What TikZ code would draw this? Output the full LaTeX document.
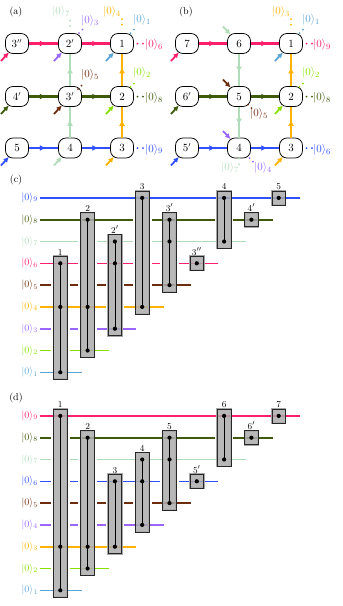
\documentclass[tikz,border=0pt]{standalone}
\usetikzlibrary{arrows.meta,decorations.markings,calc}
\definecolor{cLB}{HTML}{5AA5D5}
\definecolor{cLime}{HTML}{88E000}
\definecolor{cPur}{HTML}{9966FF}
\definecolor{cOr}{HTML}{FFB300}
\definecolor{cBr}{HTML}{6E2C0E}
\definecolor{cPk}{HTML}{FF1F6B}
\definecolor{cMint}{HTML}{B0DCB9}
\definecolor{cOl}{HTML}{3E5A0A}
\definecolor{cBl}{HTML}{3050FF}
\newcommand\feedSW[2]{\draw[feed=#2] ($(#1)+(-16,17.5)$) -- (#1);}
\newcommand\feedNW[2]{\draw[feed=#2] ($(#1)+(-16,-17)$) -- (#1);}
\newcommand\twodots[3]{\fill[#1] (#2) circle[radius=1pt] (#3) circle[radius=1pt];}
% #1 offset, #2 column, #3 name, #4 label, #5 top wire, #6 bottom wire, #7 list wire/colour
\newcommand\gate[7]{%
  \pgfmathsetmacro\gx{60.3+(#2-1)*27.3}%
  \pgfmathsetmacro\gt{372.3-(#5-1)*21.8+#1}%
  \pgfmathsetmacro\gb{372.3-(#6-1)*21.8+#1}%
  \fill[white] (\gx-9.3,\gt-7) rectangle (\gx+9.3,\gb+7);
  \foreach \gk/\gc in {#7}{\pgfmathsetmacro\gy{372.3-(\gk-1)*21.8+#1}\draw[wire=\gc] (\gx-9.6,\gy) -- (\gx+9.6,\gy);}
  \draw[draw=gray!70, line width=1.8pt] (\gx-6.8,\gt-7) rectangle (\gx+6.8,\gb+7);
  \draw[gatebox] (\gx-6.8,\gt-7) rectangle (\gx+6.8,\gb+7);
  \draw[line width=0.8pt] (\gx,\gt) -- (\gx,\gb);
  \foreach \gk/\gc in {#7}{\pgfmathsetmacro\gy{372.3-(\gk-1)*21.8+#1}\fill (\gx,\gy) circle[radius=2.1pt];}
  \node[glab] (#3) at (\gx,\gt-7) {$#4$};
}
\begin{document}
\begin{tikzpicture}[x=1pt,y=-1pt,
  font=\fontsize{10}{12}\selectfont,
  site/.style={draw=black, fill=white, line width=0.75pt, rounded corners=7.5pt, minimum width=23pt, minimum height=20pt, inner sep=0pt, font=\fontsize{10.5}{12}\selectfont},
  flow/.style={draw=#1, line width=2.2pt, postaction={decorate}, decoration={markings, mark=at position 0.58 with {\arrow{Latex[length=6pt,width=6pt]}}}},
  feed/.style={draw=#1, line width=1.8pt, -{Latex[length=5.5pt,width=5.5pt]}, shorten >=-2pt},
  ket/.style={text=#1, inner sep=0.5pt, font=\fontsize{11}{13}\selectfont},
  wire/.style={draw=#1, line width=1.6pt},
  gatebox/.style={fill=gray!65, fill opacity=0.85, draw=black!85, line width=0.7pt},
  glab/.style={anchor=south, inner sep=1pt, font=\fontsize{9.5}{10}\selectfont},
  wlab/.style={anchor=east, inner sep=0.5pt, text=#1}
]
\useasboundingbox (0,0) rectangle (343,606);

% ---------- panel (a) ----------
\node (pa) at (16,12) {(a)};
\node[site] (a3pp) at (17,43.5) {$3''$};
\node[site] (a2p) at (70,43.5) {$2'$};
\node[site] (a1) at (122,43.5) {$1$};
\node[site] (a4p) at (17,96.5) {$4'$};
\node[site] (a3p) at (70,96.5) {$3'$};
\node[site] (a2) at (122,96.5) {$2$};
\node[site] (a5) at (17,148) {$5$};
\node[site] (a4) at (70,148) {$4$};
\node[site] (a3) at (122,148) {$3$};

\draw[flow=cPk] (a3pp) -- (a2p);
\draw[flow=cPk] (a2p) -- (a1);
\draw[flow=cOl] (a4p) -- (a3p);
\draw[flow=cOl] (a3p) -- (a2);
\draw[flow=cBl] (a5) -- (a4);
\draw[flow=cBl] (a4) -- (a3);
\draw[flow=cMint] (a4) -- (a3p);
\draw[flow=cMint] (a3p) -- (a2p);
\draw[flow=cOr] (a3) -- (a2);
\draw[flow=cOr] (a2) -- (a1);

\feedSW{a3pp}{cPk}
\feedSW{a2p}{cPur}
\feedSW{a1}{cLB}
\feedSW{a4p}{cOl}
\feedSW{a3p}{cBr}
\feedSW{a2}{cLime}
\feedSW{a5}{cBl}
\feedSW{a4}{cMint}
\feedSW{a3}{cOr}

\node[ket=cMint] (ka7) at (61,12) {$|0\rangle_7$};
\node[ket=cPur] (ka3) at (90,21) {$|0\rangle_3$};
\node[ket=cOr] (ka4) at (112,12) {$|0\rangle_4$};
\node[ket=cLB] (ka1) at (142,20) {$|0\rangle_1$};
\node[ket=cPk] (ka6) at (154,45) {$|0\rangle_6$};
\node[ket=cBr] (ka5) at (90,75) {$|0\rangle_5$};
\node[ket=cLime] (ka2) at (142,73) {$|0\rangle_2$};
\node[ket=cOl] (ka8) at (154,98) {$|0\rangle_8$};
\node[ket=cBl] (ka9) at (154,149.5) {$|0\rangle_9$};

\twodots{cMint}{70,20.5}{70,26}
\twodots{cPur}{79,33}{82.5,29.5}
\twodots{cOr}{122,19}{122,24.5}
\twodots{cLB}{130.5,33}{134,29.5}
\twodots{cPk}{137.5,43.5}{143,43.5}
\twodots{cBr}{78,89}{81.5,85.5}
\twodots{cLime}{130.5,87}{134,83.5}
\twodots{cOl}{137.5,96.5}{143,96.5}
\twodots{cBl}{137.5,148}{143,148}

% ---------- panel (b) ----------
\node (pb) at (186,12) {(b)};
\node[site] (b7) at (187,43.5) {$7$};
\node[site] (b6) at (239,43.5) {$6$};
\node[site] (b1) at (291,43.5) {$1$};
\node[site] (b6p) at (187,96.5) {$6'$};
\node[site] (b5) at (239,96.5) {$5$};
\node[site] (b2) at (291,96.5) {$2$};
\node[site] (b5p) at (187,148) {$5'$};
\node[site] (b4) at (239,148) {$4$};
\node[site] (b3) at (291,148) {$3$};

\draw[flow=cPk] (b7) -- (b6);
\draw[flow=cPk] (b6) -- (b1);
\draw[flow=cOl] (b6p) -- (b5);
\draw[flow=cOl] (b5) -- (b2);
\draw[flow=cBl] (b5p) -- (b4);
\draw[flow=cBl] (b4) -- (b3);
\draw[flow=cMint] (b6) -- (b5);
\draw[flow=cMint] (b5) -- (b4);
\draw[flow=cOr] (b3) -- (b2);
\draw[flow=cOr] (b2) -- (b1);

\feedSW{b7}{cPk}
\feedNW{b6}{cMint}
\feedSW{b1}{cLB}
\feedSW{b6p}{cOl}
\feedNW{b5}{cBr}
\feedSW{b2}{cLime}
\feedSW{b5p}{cBl}
\feedNW{b4}{cPur}
\feedSW{b3}{cOr}

\node[ket=cOr] (kb3) at (281,12) {$|0\rangle_3$};
\node[ket=cLB] (kb1) at (311,20) {$|0\rangle_1$};
\node[ket=cPk] (kb9) at (322,45) {$|0\rangle_9$};
\node[ket=cLime] (kb2) at (311,73) {$|0\rangle_2$};
\node[ket=cOl] (kb8) at (322,98) {$|0\rangle_8$};
\node[ket=cBl] (kb6) at (322,150) {$|0\rangle_6$};
\node[ket=cBr] (kb5) at (259,114) {$|0\rangle_5$};
\node[ket=cMint] (kb7) at (230,168) {$|0\rangle_7$};
\node[ket=cPur] (kb4) at (263,168) {$|0\rangle_4$};

\twodots{cOr}{291,19}{291,24.5}
\twodots{cLB}{299.5,33}{303,29.5}
\twodots{cPk}{306.5,43.5}{312,43.5}
\twodots{cLime}{299.5,87}{303,83.5}
\twodots{cOl}{306.5,96.5}{312,96.5}
\twodots{cBl}{306.5,148}{312,148}
\twodots{cBr}{248,104.5}{251.5,108}
\twodots{cMint}{239,158.5}{239,164}
\twodots{cPur}{249.5,158}{253,161.5}

% ---------- panel (c) ----------
\node (pc) at (16,180) {(c)};
\foreach \wk/\wc in {1/cLB,2/cLime,3/cPur,4/cOr,5/cBr,6/cPk,7/cMint,8/cOl,9/cBl}{
  \pgfmathsetmacro\wy{372.3-(\wk-1)*21.8}
  \pgfmathsetmacro\we{60.3+(\wk-1)*27.3+21.5}
  \draw[wire=\wc] (40,\wy) -- (\we,\wy);
  \node[wlab=\wc] (wc\wk) at (38.5,\wy) {$|0\rangle_{\wk}$};
}
\gate{0}{1}{gc1}{1}{6}{1}{6/cPk,4/cOr,1/cLB}
\gate{0}{2}{gc2}{2}{8}{2}{8/cOl,4/cOr,2/cLime}
\gate{0}{3}{gc2p}{2'}{7}{3}{7/cMint,6/cPk,3/cPur}
\gate{0}{4}{gc3}{3}{9}{4}{9/cBl,4/cOr}
\gate{0}{5}{gc3p}{3'}{8}{5}{8/cOl,7/cMint,5/cBr}
\gate{0}{6}{gc3pp}{3''}{6}{6}{6/cPk}
\gate{0}{7}{gc4}{4}{9}{7}{9/cBl,7/cMint}
\gate{0}{8}{gc4p}{4'}{8}{8}{8/cOl}
\gate{0}{9}{gc5}{5}{9}{9}{9/cBl}

% ---------- panel (d) ----------
\node (pd) at (16,398) {(d)};
\foreach \wk/\wc in {1/cLB,2/cLime,3/cOr,4/cPur,5/cBr,6/cBl,7/cMint,8/cOl,9/cPk}{
  \pgfmathsetmacro\wy{372.3-(\wk-1)*21.8+218}
  \pgfmathsetmacro\we{60.3+(\wk-1)*27.3+21.5}
  \draw[wire=\wc] (40,\wy) -- (\we,\wy);
  \node[wlab=\wc] (wd\wk) at (38.5,\wy) {$|0\rangle_{\wk}$};
}
\gate{218}{1}{gd1}{1}{9}{1}{9/cPk,3/cOr,1/cLB}
\gate{218}{2}{gd2}{2}{8}{2}{8/cOl,3/cOr,2/cLime}
\gate{218}{3}{gd3}{3}{6}{3}{6/cBl,3/cOr}
\gate{218}{4}{gd4}{4}{7}{4}{7/cMint,6/cBl,4/cPur}
\gate{218}{5}{gd5}{5}{8}{5}{8/cOl,7/cMint,5/cBr}
\gate{218}{6}{gd5p}{5'}{6}{6}{6/cBl}
\gate{218}{7}{gd6}{6}{9}{7}{9/cPk,7/cMint}
\gate{218}{8}{gd6p}{6'}{8}{8}{8/cOl}
\gate{218}{9}{gd7}{7}{9}{9}{9/cPk}
\end{tikzpicture}
\end{document}
